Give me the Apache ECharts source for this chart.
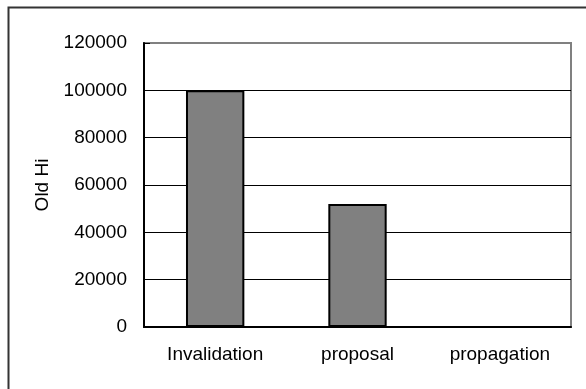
<!DOCTYPE html>
<html>
<head>
<meta charset="utf-8">
<script src="https://cdn.jsdelivr.net/npm/echarts@6/dist/echarts.min.js"></script>
<style>
html,body{margin:0;padding:0;background:#fff;}
#main{width:586px;height:389px;}
</style>
</head>
<body>
<div id="main"></div>
<script>
var categories = ['Invalidation', 'proposal', 'propagation'];
var oldHi = [100000, 52000, 0];
var yTicks = [0, 20000, 40000, 60000, 80000, 100000, 120000];
var yName = 'Old Hi';

var font = "'Liberation Sans', Arial, sans-serif";
var myChart = echarts.init(document.getElementById('main'));
var option = {
    animation: false,
    backgroundColor: '#fff',
    graphic: [
        {
            type: 'rect',
            left: 6, top: 5,
            shape: {width: 620, height: 420},
            style: {fill: 'none', stroke: '#333', lineWidth: 2}
        }
    ],
    grid: {
        left: 144,
        right: 15,
        top: 43,
        bottom: 62,
        show: true,
        borderColor: '#808080',
        borderWidth: 2
    },
    xAxis: [
        {
            type: 'category',
            data: categories,
            axisLine: {lineStyle: {color: '#000', width: 2}},
            axisTick: {inside: true, length: 5, lineStyle: {color: '#000', width: 1}},
            axisLabel: {
                interval: 0,
                color: '#000',
                fontFamily: font,
                fontSize: 19,
                margin: 18
            }
        }
    ],
    yAxis: [
        {
            type: 'value',
            min: yTicks[0],
            max: yTicks[yTicks.length - 1],
            interval: yTicks[1] - yTicks[0],
            name: yName,
            nameLocation: 'middle',
            nameGap: 76,
            nameTextStyle: {color: '#000', fontFamily: font, fontSize: 19},
            axisLine: {show: true, lineStyle: {color: '#000', width: 2}},
            axisTick: {show: true, inside: true, length: 6, lineStyle: {color: '#000'}},
            axisLabel: {
                color: '#000', fontFamily: font, fontSize: 19, margin: 17,
                formatter: function (v) { return String(v); }
            },
            splitLine: {
                show: true,
                lineStyle: {color: ['#000', '#000', '#000', '#000', '#000', '#000', '#808080'], width: 1}
            }
        }
    ],
    series: [
        {
            type: 'bar',
            barWidth: '41%',
            data: oldHi,
            itemStyle: {color: '#808080', borderColor: '#000', borderWidth: 2}
        }
    ]
};
myChart.setOption(option, true);
</script>
</body>
</html>
